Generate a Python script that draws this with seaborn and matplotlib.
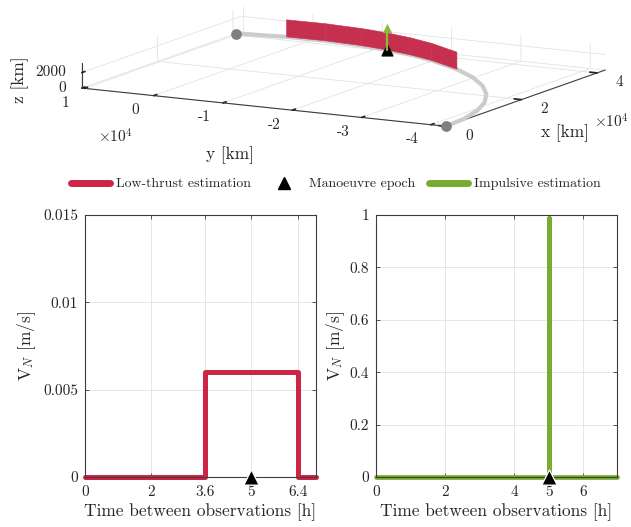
import numpy as np
import pandas as pd
import matplotlib
matplotlib.use("Agg")
import matplotlib.pyplot as plt
import seaborn as sns
from matplotlib.lines import Line2D

# ---------------- data ----------------
orbit_t_h = [0, 0.5, 1, 1.5, 2, 2.5, 3, 3.6, 4.2, 4.6, 5.0, 5.4, 5.9, 6.4, 6.93]
orbit_x_km = [0, 5517, 10940, 16176, 21133, 25722, 29877, 33648, 37217,
              39089, 40531, 41526, 42125, 42000, 40871]
orbit_y_km = [-42164, -41801, -40720, -38938, -36486, -33409, -29752, -25409,
              -19817, -15805, -11622, -7310, -1813, 3716, 10362]
orbit_z_km = [0] * 15

lt_t_h = [0, 3.6, 3.6, 6.4, 6.4, 6.95]
lt_vn = [0, 0, 0.006, 0.006, 0, 0]
imp_t_h = [0, 5, 5, 5, 6.98]
imp_vn = [0, 0, 0.99, 0, 0]
man_t_h = 5.0
lt_start_h, lt_end_h = 3.6, 6.4
ribbon_height_km = 2200
arrow_height_km = 2900

x3_ticks = [0, 20000, 40000]
x3_ticklabels = ["0", "2", "4"]
y3_ticks = [10000, 0, -10000, -20000, -30000, -40000]
y3_ticklabels = ["1", "0", "-1", "-2", "-3", "-4"]
z3_ticks = [0, 2000]
z3_ticklabels = ["0", "2000"]

lt_xticks = [0, 2, 3.6, 5, 6.4]
lt_xticklabels = ["0", "2", "3.6", "5", "6.4"]
lt_yticks = [0, 0.005, 0.01, 0.015]
lt_yticklabels = ["0", "0.005", "0.01", "0.015"]
imp_xticks = [0, 2, 4, 5, 6]
imp_yticks = [0, 0.2, 0.4, 0.6, 0.8, 1]
imp_yticklabels = ["0", "0.2", "0.4", "0.6", "0.8", "1"]

RED = "#CC2547"
RIBBON = "#C62F4E"
GREEN = "#77AC30"
ARROW = "#86BE3C"
ORBIT = "#CCCCCC"
DOT = "#808080"
EDGE = "#3C3C3C"
TXT = "#262626"

sns.set_theme(style="white")
plt.rcParams["font.family"] = ["cmr10", "DejaVu Serif"]
plt.rcParams["mathtext.fontset"] = "cm"
plt.rcParams["axes.unicode_minus"] = False
plt.rcParams["axes.formatter.use_mathtext"] = True

W, H = 631, 527
fig = plt.figure(figsize=(W / 100, H / 100), dpi=100)

# ---------------- 2D panels ----------------
def style2d(ax):
    ax.grid(True, color="#E3E3E3", lw=0.6)
    for s in ax.spines.values():
        s.set_color(EDGE)
        s.set_linewidth(0.8)
        s.set_visible(True)
    ax.tick_params(direction="in", length=3, width=0.6, color=EDGE, labelsize=11,
                   top=True, right=True, bottom=True, left=True, pad=5)
    ax.tick_params(axis="x", pad=6)
    ax.set_axisbelow(True)

axL = fig.add_axes([85 / W, 1 - 477 / H, 231 / W, 262 / H])
dfL = pd.DataFrame({"t": lt_t_h, "v": lt_vn})
sns.lineplot(data=dfL, x="t", y="v", ax=axL, color=RED, lw=3.6, estimator=None, sort=False)
sns.scatterplot(x=[man_t_h], y=[0], ax=axL, marker="^", color="black", s=120, clip_on=False, zorder=5)
axL.set_xlim(0, 6.95)
axL.set_ylim(0, 0.015)
axL.set_xticks(lt_xticks, lt_xticklabels)
axL.set_yticks(lt_yticks, lt_yticklabels)
axL.set_xlabel("Time between observations [h]", fontsize=12.5, labelpad=3)
axL.set_ylabel(r"V$_N$ [m/s]", fontsize=12.5)
style2d(axL)
for l in axL.lines:
    l.set_clip_on(False)

axR = fig.add_axes([376 / W, 1 - 477 / H, 241 / W, 262 / H])
dfR = pd.DataFrame({"t": imp_t_h, "v": imp_vn})
sns.lineplot(data=dfR, x="t", y="v", ax=axR, color=GREEN, lw=3.4, estimator=None, sort=False)
sns.scatterplot(x=[man_t_h], y=[0], ax=axR, marker="^", color="black", s=120, clip_on=False, zorder=5)
axR.set_xlim(0, 6.98)
axR.set_ylim(0, 1)
axR.set_xticks(imp_xticks, [str(v) for v in imp_xticks])
axR.set_yticks(imp_yticks, imp_yticklabels)
axR.set_xlabel("Time between observations [h]", fontsize=12.5, labelpad=3)
axR.set_ylabel(r"V$_N$ [m/s]", fontsize=12.5, labelpad=2)
style2d(axR)
for l in axR.lines:
    l.set_clip_on(False)

# ---------------- 3D orbit panel ----------------
side = 631.0
cx, cy = 335.0, 75.0
ax3 = fig.add_axes([(cx - side / 2) / W, (H - cy - side / 2) / H, side / W, side / H],
                   projection="3d")
ax3.patch.set_alpha(0)
ax3.computed_zorder = False
ax3.set_proj_type("ortho")
xr = (0, 42164)
yr = (min(orbit_y_km), max(orbit_y_km))
zr = (0, 3250)
ax3.set_xlim(*xr)
ax3.set_ylim(*yr)
ax3.set_zlim(*zr)
ax3.set_box_aspect((xr[1] - xr[0], yr[1] - yr[0], zr[1] - zr[0]), zoom=0.819)
ax3.view_init(elev=11.1, azim=-151.4)

for axis in (ax3.xaxis, ax3.yaxis, ax3.zaxis):
    axis.set_pane_color((1, 1, 1, 0))
    axis.pane.set_edgecolor(EDGE)
    axis.pane.set_linewidth(0.8)
    axis._axinfo["grid"]["color"] = "#E3E3E3"
    axis._axinfo["grid"]["linewidth"] = 0.6
    axis.line.set_color(EDGE)
    axis.line.set_linewidth(0.8)
    axis._axinfo["tick"]["color"] = EDGE
    axis._axinfo["tick"]["inward_factor"] = 0.0
    axis._axinfo["tick"]["outward_factor"] = 0.25

ax3.set_xticks(x3_ticks, [""] * len(x3_ticks))
ax3.set_yticks(y3_ticks, [""] * len(y3_ticks))
ax3.set_zticks(z3_ticks, [""] * len(z3_ticks))
ax3.set_xlabel("")
ax3.set_ylabel("")
ax3.set_zlabel("")

# tick labels placed next to the box edges (offsets in data units)
for v, s in zip(y3_ticks, y3_ticklabels):
    ax3.text(xr[0] - 4900, v, zr[0] - 1030, s, fontsize=11, ha="center", va="center", color=TXT)
for v, s in zip(x3_ticks, x3_ticklabels):
    ax3.text(v, yr[0] - 3300, zr[0] - 920, s, fontsize=11, ha="center", va="center", color=TXT)
for v, s in zip(z3_ticks, z3_ticklabels):
    ax3.text(xr[0], yr[1] + 2300, v - 200, s, fontsize=11, ha="right", va="center", color=TXT)

ox = np.array(orbit_x_km)
oy = np.array(orbit_y_km)
oz = np.array(orbit_z_km)
ot = np.array(orbit_t_h)
ax3.plot(ox, oy, oz, color=ORBIT, lw=3, zorder=1, solid_capstyle="round")
ax3.scatter([ox[0], ox[-1]], [oy[0], oy[-1]], [oz[0], oz[-1]], color=DOT, s=45,
            depthshade=False, zorder=5)
sel = (ot >= lt_start_h) & (ot <= lt_end_h)
X = np.vstack([ox[sel], ox[sel]])
Y = np.vstack([oy[sel], oy[sel]])
Z = np.vstack([oz[sel], oz[sel] + ribbon_height_km])
ax3.plot_surface(X, Y, Z, color=RIBBON, shade=False, linewidth=0.4, edgecolor=RIBBON,
                 antialiased=True, zorder=2)
im = ot == man_t_h
ax3.scatter(ox[im], oy[im], oz[im], marker="^", color="black", s=60, depthshade=False, zorder=3)
ax3.plot([ox[im][0]] * 2, [oy[im][0]] * 2, [oz[im][0], oz[im][0] + arrow_height_km],
         color=ARROW, lw=1.6, zorder=4)
ax3.scatter(ox[im], oy[im], oz[im] + arrow_height_km, marker="^", color=ARROW, s=45,
            depthshade=False, zorder=4, linewidths=0)

fig.text(20 / W, 1 - 80 / H, "z [km]", fontsize=12.5, rotation=90, ha="center", va="center", color=TXT)
fig.text(230 / W, 1 - 155 / H, "y [km]", fontsize=12.5, ha="center", va="center", color=TXT)
fig.text(565 / W, 1 - 133 / H, "x [km]", fontsize=12.5, ha="center", va="center", color=TXT)
fig.text(115 / W, 1 - 137 / H, r"$\times10^4$", fontsize=11, ha="center", va="center", color=TXT)
fig.text(629 / W, 1 - 122 / H, r"$\times10^4$", fontsize=11, ha="right", va="center", color=TXT)

# ---------------- legend ----------------
handles = [
    Line2D([], [], color=RED, lw=5),
    Line2D([], [], color="black", marker="^", ls="none", markersize=9),
    Line2D([], [], color=GREEN, lw=5),
]
labels = ["Low-thrust estimation", "Manoeuvre epoch", "Impulsive estimation"]
fig.legend(handles, labels, loc="center", bbox_to_anchor=(336 / W, 1 - 184 / H), ncol=3,
           frameon=False, fontsize=10, handlelength=2.8, columnspacing=1.0, handletextpad=0.4)

fig.savefig("out.png", dpi=100)
